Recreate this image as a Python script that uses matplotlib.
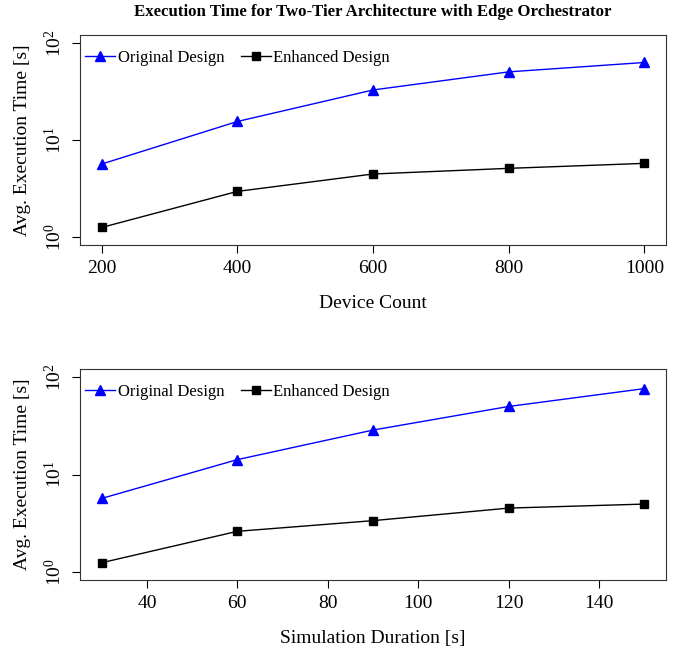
from matplotlib import pyplot as plt
from matplotlib.ticker import FixedLocator, LogFormatterMathtext, NullLocator

plt.rcParams['font.family'] = ['Liberation Serif', 'DejaVu Serif']
plt.rcParams['mathtext.fontset'] = 'stix'

# Dados
device_count = [200, 400, 600, 800, 1000]
orig_device = [5.66, 15.5, 32.7, 50.2, 62.7]
enh_device = [1.26, 2.96, 4.47, 5.11, 5.75]

sim_duration = [30, 60, 90, 120, 150]
orig_duration = [5.69, 14.2, 28.5, 49.7, 75.7]
enh_duration = [1.25, 2.62, 3.37, 4.53, 4.98]

W, H = 689, 654
fig = plt.figure(figsize=(W / 100, H / 100), dpi=100)

def panel(box, x, orig, enh, xticks, xlabel):
    left, top, right, bottom = box
    ax = fig.add_axes([left / W, 1 - bottom / H, (right - left) / W, (bottom - top) / H])
    ax.plot(x, orig, color='blue', linewidth=1, marker='^', markersize=7, label='Original Design')
    ax.plot(x, enh, color='black', linewidth=1, marker='s', markersize=6, label='Enhanced Design')
    ax.set_yscale('log')
    span = x[-1] - x[0]
    ax.set_xlim(x[0] - 0.04 * span, x[-1] + 0.04 * span)
    ax.set_ylim(10 ** -0.08, 10 ** 2.08)
    ax.yaxis.set_major_locator(FixedLocator([1, 10, 100]))
    ax.yaxis.set_major_formatter(LogFormatterMathtext())
    ax.yaxis.set_minor_locator(NullLocator())
    ax.xaxis.set_major_locator(FixedLocator(xticks))
    ax.tick_params(direction='out', length=6, width=0.8, labelsize=14, pad=5)
    for lab in ax.get_yticklabels():
        lab.set_rotation(90)
        lab.set_va('center')
    ax.set_xlabel(xlabel, fontsize=14, labelpad=13)
    ax.set_ylabel('Avg. Execution Time [s]', fontsize=14, labelpad=9)
    for sp in ax.spines.values():
        sp.set_linewidth(0.8)
        sp.set_color('#333333')
    ax.legend(loc='upper left', bbox_to_anchor=(0, 1 - 10 / (bottom - top)), ncol=2,
              frameon=False, fontsize=12, handlelength=1.8, handletextpad=0.15,
              columnspacing=1.0, borderaxespad=0, borderpad=0.3)
    return ax

panel((80, 35, 666, 245), device_count, orig_device, enh_device,
      [200, 400, 600, 800, 1000], 'Device Count')
panel((80, 369, 666, 580), sim_duration, orig_duration, enh_duration,
      [40, 60, 80, 100, 120, 140], 'Simulation Duration [s]')

fig.text(373 / W, 1 - 12 / H, 'Execution Time for Two-Tier Architecture with Edge Orchestrator',
         ha='center', va='center', fontsize=12.1, fontweight='bold')

fig.savefig('out.png', dpi=100)
